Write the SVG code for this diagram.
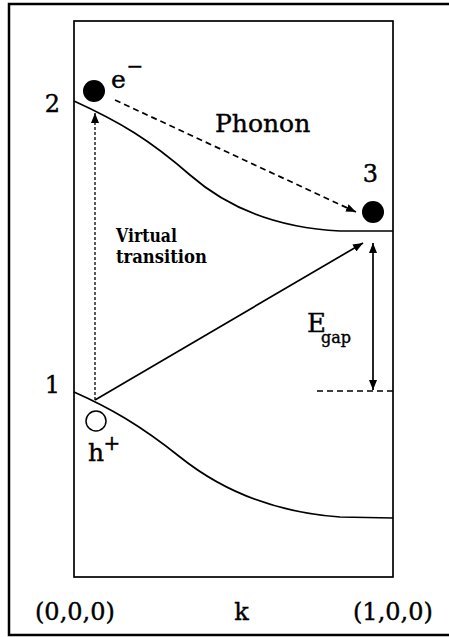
<svg xmlns="http://www.w3.org/2000/svg" width="449" height="637" viewBox="0 0 449 637">
<style>
.ln{fill:none;stroke:#000;stroke-width:1.7}
.t{font-family:"DejaVu Serif","Liberation Serif",serif;fill:#000;stroke:#000;stroke-width:0.4}
.tb{font-family:"DejaVu Serif","Liberation Serif",serif;font-weight:bold;fill:#000}
.dash{fill:none;stroke:#000;stroke-width:1.7;stroke-dasharray:6 4}
.dot{fill:none;stroke:#000;stroke-width:1.3;stroke-dasharray:3 2}
</style>
<defs>
<marker id="ah" viewBox="0 0 10 8" refX="10" refY="4" markerWidth="10" markerHeight="8" markerUnits="userSpaceOnUse" orient="auto-start-reverse">
<path d="M0,0 L10,4 L0,8 Z" fill="#000"/>
</marker>
</defs>
<rect width="449" height="637" fill="#fff"/>
<g id="frame">
<path d="M470,4 H9 V635 H470" fill="none" stroke="#000" stroke-width="2.5"/>
<rect x="74" y="21" width="319" height="556" class="ln"/>
</g>
<g id="band2">
<path class="ln" d="M74,101 C120,122 150,140 190,175 C230,210 280,228 340,231 L393,231"/>
<text class="t" x="52.5" y="112" font-size="24" text-anchor="middle">2</text>
</g>
<g id="band1">
<path class="ln" d="M74,392 C110,408 140,425 180,457 C220,489 270,512 340,517 L393,518"/>
<text class="t" x="52.5" y="393" font-size="24" text-anchor="middle">1</text>
</g>
<g id="electron">
<circle cx="94" cy="91" r="11" fill="#000"/>
<text class="t" x="111" y="88" font-size="25">e</text>
<text class="t" x="135" y="73" font-size="20" text-anchor="middle">−</text>
</g>
<g id="state3">
<circle cx="373" cy="212" r="11" fill="#000"/>
<text class="t" x="370.5" y="182" font-size="24" text-anchor="middle">3</text>
</g>
<g id="hole">
<circle cx="96" cy="421" r="10" fill="#fff" stroke="#000" stroke-width="1.5"/>
<text class="t" x="88" y="461" font-size="25">h</text>
<text class="t" x="112" y="450" font-size="20" text-anchor="middle">+</text>
</g>
<g id="connectors">
<line class="dash" x1="115" y1="100" x2="356" y2="212" marker-end="url(#ah)"/>
<line class="dot" x1="95" y1="400" x2="95" y2="113" marker-end="url(#ah)"/>
<line class="ln" x1="95" y1="400" x2="363" y2="243" marker-end="url(#ah)"/>
<line class="ln" x1="373" y1="243" x2="373" y2="390" marker-start="url(#ah)" marker-end="url(#ah)"/>
<line class="dash" x1="317" y1="391" x2="393" y2="391"/>
</g>
<g id="labels">
<text class="t" x="215" y="132" font-size="25">Phonon</text>
<text class="tb" x="116" y="242" font-size="18.5" textLength="61" lengthAdjust="spacingAndGlyphs">Virtual</text>
<text class="tb" x="116" y="263" font-size="18.5" textLength="91" lengthAdjust="spacingAndGlyphs">transition</text>
<text class="t" x="307" y="332" font-size="26">E</text>
<text class="t" x="321" y="343" font-size="16">gap</text>
<text class="t" x="35" y="620" font-size="24">(0,0,0)</text>
<text class="t" x="241.5" y="620" font-size="24" text-anchor="middle">k</text>
<text class="t" x="353" y="620" font-size="24">(1,0,0)</text>
</g>
</svg>
